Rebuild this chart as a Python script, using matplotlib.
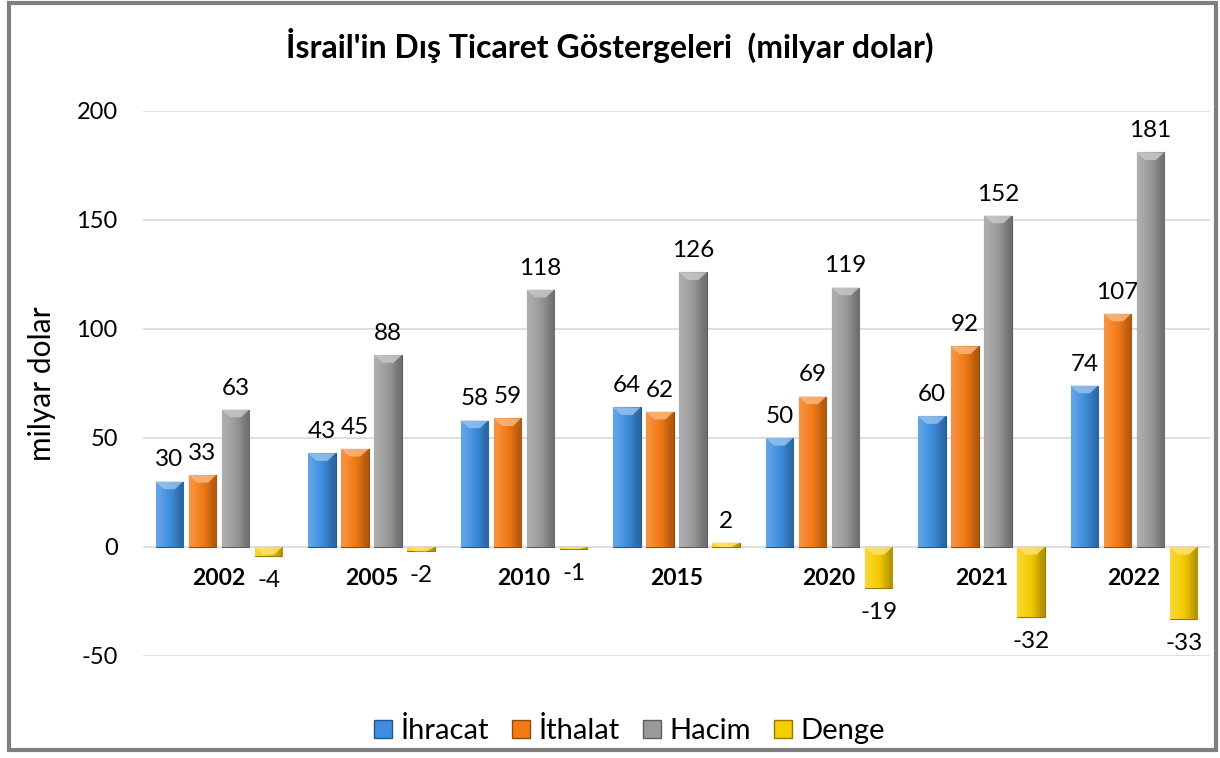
import numpy as np
import matplotlib.pyplot as plt
from matplotlib.colors import to_rgb
from matplotlib.patches import Rectangle, Patch, Polygon

years = ["2002", "2005", "2010", "2015", "2020", "2021", "2022"]
ihracat = [30, 43, 58, 64, 50, 60, 74]
ithalat = [33, 45, 59, 62, 69, 92, 107]
hacim = [63, 88, 118, 126, 119, 152, 181]
denge = [-4, -2, -1, 2, -19, -32, -33]

series = [("İhracat", ihracat, "#3d8ee0"),
          ("İthalat", ithalat, "#f47a14"),
          ("Hacim", hacim, "#9a9a9a"),
          ("Denge", denge, "#f7cc00")]

plt.rcParams['font.family'] = ['Lato', 'DejaVu Sans']
plt.rcParams['axes.unicode_minus'] = False

fig = plt.figure(figsize=(12.2, 7.58), dpi=100)
ax = fig.add_axes([0.117, 0.1346, 0.875, 0.719])

# grey frame around the whole chart
fig.patches.append(Rectangle((0.007, 0.011), 0.990, 0.985, transform=fig.transFigure,
                             fill=False, edgecolor="#7f7f7f", linewidth=3, zorder=10))

x = np.arange(len(years))
w = 0.18
step = 0.217
bevel = 3.5  # height of the light top bevel, in data units


def shade(c, f):
    r = np.array(to_rgb(c))
    if f >= 0:
        return tuple(r + (1 - r) * f)
    return tuple(r * (1 + f))


for i, (name, vals, col) in enumerate(series):
    bars = ax.bar(x + (i - 1.5) * step, vals, width=w, color=col,
                  edgecolor=shade(col, -0.4), linewidth=0.8, zorder=3)
    grad = np.array([shade(col, 0.2), shade(col, 0.08), shade(col, 0), shade(col, -0.12), shade(col, -0.28)])
    for b, v in zip(bars, vals):
        x0, y0 = b.get_x(), b.get_y()
        x1, y1 = x0 + b.get_width(), y0 + b.get_height()
        lo, hi = min(y0, y1), max(y0, y1)
        im = ax.imshow(grad[np.newaxis, :, :], extent=(x0, x1, lo, hi),
                       aspect='auto', interpolation='bicubic', zorder=3.5)
        im.set_clip_path(b)
        h = min(bevel, hi - lo)
        bw = x1 - x0
        ax.add_patch(Polygon([(x0, hi), (x1, hi), (x1 - 0.3 * bw, hi - h), (x0 + 0.3 * bw, hi - h)],
                             closed=True, facecolor=shade(col, 0.45), edgecolor='none',
                             alpha=0.85, zorder=3.6))
        if v >= 0:
            ax.annotate(str(v), (b.get_x() + bw / 2, v), xytext=(0, 8),
                        textcoords='offset points', ha='center', va='bottom', fontsize=17.5)
        else:
            ax.annotate(str(v), (b.get_x() + bw / 2, v), xytext=(0, -10),
                        textcoords='offset points', ha='center', va='top', fontsize=17.5)

ax.set_xlim(-0.5, len(years) - 0.5)
ax.set_ylim(-50, 200)
ax.set_yticks([-50, 0, 50, 100, 150, 200])
ax.tick_params(axis='y', length=0, labelsize=17, pad=18)
ax.grid(axis='y', color="#d9d9d9", linewidth=1.2, zorder=0)
ax.set_axisbelow(True)

ax.spines['bottom'].set_position(('data', 0))
for s in ax.spines.values():
    s.set_visible(False)
ax.set_xticks(x)
ax.set_xticklabels(years, fontsize=16.5, fontweight='bold')
ax.tick_params(axis='x', length=0, pad=15)

ax.set_ylabel("milyar dolar", fontsize=21.5, labelpad=15)
fig.text(0.5, 0.94, "İsrail'in Dış Ticaret Göstergeleri  (milyar dolar)",
         ha='center', va='center', fontsize=23, fontweight='bold')

handles = [Patch(facecolor=c, edgecolor=shade(c, -0.4)) for _, _, c in series]
fig.legend(handles, [n for n, _, _ in series], loc='center', bbox_to_anchor=(0.516, 0.036),
           ncol=4, frameon=False, fontsize=21, handlelength=0.6, handleheight=0.6,
           handletextpad=0.3, columnspacing=0.8)

fig.savefig("out.png", dpi=100)
